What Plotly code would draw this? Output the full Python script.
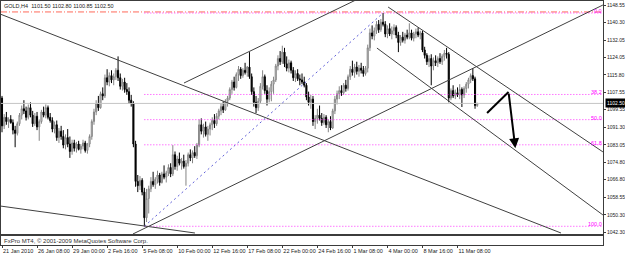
import plotly.graph_objects as go

# ---------------- data ----------------
bar_index = list(range(218))

opens = [
1105.0,1092.0,1096.0,1094.0,1095.0,1093.5,1090.0,1088.5,1093.0,1097.0,
1100.0,1099.0,1096.0,1100.5,1097.0,1093.0,1096.5,1091.5,1094.0,1098.5,
1097.0,1100.5,1096.0,1094.5,1090.5,1092.5,1086.5,1089.5,1087.0,1083.0,
1086.5,1083.5,1080.0,1084.0,1081.5,1083.5,1081.0,1082.5,1084.0,1080.5,
1083.5,1087.0,1094.0,1098.5,1102.5,1100.5,1107.0,1106.0,1114.5,1112.5,
1115.5,1113.5,1115.0,1118.0,1114.5,1110.5,1112.5,1109.0,1108.0,1104.0,
1102.5,1083.5,1066.0,1064.0,1066.5,1061.0,1049.0,1058.0,1062.5,1066.0,
1064.5,1067.0,1069.0,1065.5,1069.5,1068.0,1070.0,1072.5,1069.5,1078.5,
1073.0,1076.5,1074.5,1075.5,1073.0,1074.5,1078.5,1077.0,1079.5,1078.0,
1083.0,1092.5,1089.5,1091.5,1088.0,1090.5,1092.5,1094.5,1093.0,1096.5,
1099.0,1101.0,1099.5,1103.5,1105.0,1109.0,1112.5,1110.0,1116.0,1118.5,
1115.5,1118.0,1117.0,1119.5,1115.0,1108.0,1103.0,1100.5,1103.5,1110.5,
1115.0,1108.5,1104.5,1108.0,1111.5,1113.5,1120.0,1123.5,1122.0,1126.5,
1121.0,1119.0,1121.5,1118.0,1114.5,1116.5,1114.0,1113.5,1112.5,1111.0,
1105.5,1103.0,1104.5,1094.0,1095.5,1097.0,1095.5,1093.5,1096.0,1092.5,
1094.0,1091.0,1099.0,1104.5,1107.0,1108.5,1107.5,1111.0,1109.5,1115.0,
1118.5,1117.0,1119.5,1117.5,1119.0,1118.0,1116.5,1119.0,1128.5,1135.5,
1134.0,1136.5,1139.5,1137.0,1140.5,1139.5,1135.0,1137.5,1135.0,1136.5,
1138.0,1134.5,1131.0,1133.5,1132.0,1134.5,1133.5,1135.5,1133.0,1135.0,
1136.0,1134.5,1135.5,1127.5,1125.0,1122.0,1123.5,1120.0,1122.5,1121.5,
1123.5,1122.0,1124.5,1126.0,1125.5,1105.0,1108.5,1106.0,1107.5,1106.5,
1109.0,1106.5,1109.5,1111.5,1113.5,1115.5,1114.0,1101.5]

highs = [
1106.0,1097.5,1098.5,1096.0,1097.0,1095.0,1092.0,1094.0,1098.0,1101.5,
1104.0,1101.0,1102.0,1103.0,1099.0,1098.0,1098.5,1095.0,1099.5,1101.0,
1102.0,1101.5,1098.0,1096.0,1094.0,1094.5,1091.0,1092.0,1090.0,1088.0,
1090.5,1087.0,1085.5,1085.5,1084.5,1085.0,1083.5,1085.5,1085.0,1084.0,
1088.0,1095.0,1100.0,1104.0,1106.0,1108.0,1110.0,1116.0,1118.5,1117.0,
1118.0,1116.5,1119.0,1124.5,1116.5,1114.0,1114.5,1112.0,1110.0,1106.5,
1103.5,1085.0,1069.0,1068.5,1067.5,1063.0,1062.5,1064.0,1068.0,1070.5,
1068.0,1071.0,1070.0,1070.5,1073.5,1071.0,1074.0,1074.5,1083.0,1080.0,
1078.0,1079.5,1077.0,1078.5,1076.0,1079.5,1081.0,1080.5,1082.5,1084.0,
1095.0,1095.5,1093.0,1094.0,1092.0,1093.5,1096.0,1097.5,1098.0,1100.0,
1102.5,1103.5,1104.5,1106.0,1110.0,1113.5,1115.0,1117.0,1120.0,1119.5,
1119.0,1121.5,1120.0,1126.5,1116.5,1110.0,1106.0,1105.0,1112.0,1118.0,
1116.0,1111.0,1110.0,1113.0,1115.0,1121.0,1125.0,1127.0,1129.5,1128.5,
1124.5,1123.0,1122.5,1119.5,1118.0,1118.5,1116.0,1116.5,1115.0,1112.0,
1108.0,1106.5,1106.0,1097.0,1100.0,1101.5,1098.0,1097.5,1097.0,1095.0,
1096.5,1100.0,1106.0,1108.5,1110.5,1111.0,1112.0,1113.5,1116.0,1120.0,
1122.5,1121.0,1122.0,1120.5,1121.5,1120.0,1120.0,1130.0,1137.5,1139.0,
1138.0,1141.0,1141.5,1142.0,1144.8,1141.0,1139.0,1140.0,1138.5,1139.5,
1139.0,1136.0,1134.5,1136.0,1135.5,1137.0,1140.0,1137.0,1136.0,1137.5,
1138.0,1136.5,1136.5,1129.0,1126.0,1125.0,1125.5,1124.0,1125.0,1124.5,
1126.0,1125.5,1127.5,1128.5,1126.5,1109.5,1111.0,1109.0,1110.0,1111.5,
1110.0,1110.5,1112.5,1114.5,1116.5,1119.0,1115.0,1102.8]

lows = [
1089.0,1090.5,1092.5,1091.0,1093.0,1088.0,1082.0,1087.5,1092.0,1095.0,
1097.5,1094.5,1095.0,1096.0,1091.5,1092.0,1090.0,1085.0,1093.0,1096.0,
1095.5,1095.0,1093.5,1089.0,1088.5,1085.0,1084.0,1085.5,1081.5,1081.0,
1082.0,1077.0,1078.5,1080.0,1079.5,1080.5,1079.0,1081.0,1079.5,1079.0,
1082.0,1085.5,1092.5,1097.0,1099.0,1100.0,1104.0,1105.0,1111.0,1110.5,
1112.0,1111.0,1113.5,1113.0,1109.0,1108.5,1107.5,1106.5,1102.5,1101.0,
1082.0,1063.5,1061.0,1062.0,1059.5,1045.0,1047.0,1051.0,1061.0,1063.5,
1062.5,1065.0,1064.0,1065.0,1067.0,1065.5,1068.5,1068.0,1068.5,1071.5,
1071.0,1073.5,1071.5,1072.0,1064.0,1073.0,1075.5,1074.5,1077.0,1076.5,
1082.0,1088.0,1086.5,1087.0,1085.0,1087.5,1090.0,1091.0,1092.0,1095.0,
1097.0,1098.0,1099.0,1101.0,1104.0,1107.0,1108.5,1109.5,1113.0,1114.0,
1114.5,1116.0,1115.0,1114.0,1106.5,1101.0,1098.0,1099.0,1102.5,1109.0,
1107.0,1101.5,1103.0,1103.5,1107.0,1112.5,1118.0,1120.5,1121.0,1119.5,
1117.5,1117.0,1116.5,1113.0,1112.5,1113.0,1111.0,1111.5,1110.0,1104.0,
1101.5,1100.0,1092.0,1090.5,1093.0,1094.5,1092.0,1092.5,1091.0,1089.0,
1090.0,1090.5,1097.5,1102.0,1104.5,1106.0,1106.5,1108.0,1108.5,1113.5,
1115.5,1114.5,1116.0,1115.0,1116.5,1115.0,1115.5,1117.0,1127.0,1132.5,
1132.0,1135.0,1135.5,1136.0,1138.5,1133.5,1133.0,1134.0,1132.5,1134.5,
1133.0,1126.5,1129.5,1131.0,1130.5,1132.5,1132.5,1132.0,1131.5,1133.0,
1133.5,1132.5,1126.5,1123.5,1120.5,1119.5,1111.0,1118.0,1120.0,1119.5,
1121.0,1120.5,1122.5,1123.5,1103.0,1104.0,1105.0,1104.5,1105.5,1104.5,
1100.8,1105.0,1107.5,1109.5,1112.0,1113.0,1100.0,1100.85]

closes = [
1092.0,1096.0,1094.0,1095.0,1093.5,1090.0,1088.5,1093.0,1097.0,1100.0,
1099.0,1096.0,1100.5,1097.0,1093.0,1096.5,1091.5,1094.0,1098.5,1097.0,
1100.5,1096.0,1094.5,1090.5,1092.5,1086.5,1089.5,1087.0,1083.0,1086.5,
1083.5,1080.0,1084.0,1081.5,1083.5,1081.0,1082.5,1084.0,1080.5,1083.5,
1087.0,1094.0,1098.5,1102.5,1100.5,1107.0,1106.0,1114.5,1112.5,1115.5,
1113.5,1115.0,1118.0,1114.5,1110.5,1112.5,1109.0,1108.0,1104.0,1102.5,
1083.5,1066.0,1064.0,1066.5,1061.0,1049.0,1058.0,1062.5,1066.0,1064.5,
1067.0,1069.0,1065.5,1069.5,1068.0,1070.0,1072.5,1069.5,1078.5,1073.0,
1076.5,1074.5,1075.5,1073.0,1074.5,1078.5,1077.0,1079.5,1078.0,1083.0,
1092.5,1089.5,1091.5,1088.0,1090.5,1092.5,1094.5,1093.0,1096.5,1099.0,
1101.0,1099.5,1103.5,1105.0,1109.0,1112.5,1110.0,1116.0,1118.5,1115.5,
1118.0,1117.0,1119.5,1115.0,1108.0,1103.0,1100.5,1103.5,1110.5,1115.0,
1108.5,1104.5,1108.0,1111.5,1113.5,1120.0,1123.5,1122.0,1126.5,1121.0,
1119.0,1121.5,1118.0,1114.5,1116.5,1114.0,1113.5,1112.5,1111.0,1105.5,
1103.0,1104.5,1094.0,1095.5,1097.0,1095.5,1093.5,1096.0,1092.5,1094.0,
1091.0,1099.0,1104.5,1107.0,1108.5,1107.5,1111.0,1109.5,1115.0,1118.5,
1117.0,1119.5,1117.5,1119.0,1118.0,1116.5,1119.0,1128.5,1135.5,1134.0,
1136.5,1139.5,1137.0,1140.5,1139.5,1135.0,1137.5,1135.0,1136.5,1138.0,
1134.5,1131.0,1133.5,1132.0,1134.5,1133.5,1135.5,1133.0,1135.0,1136.0,
1134.5,1135.5,1127.5,1125.0,1122.0,1123.5,1120.0,1122.5,1121.5,1123.5,
1122.0,1124.5,1126.0,1125.5,1105.0,1108.5,1106.0,1107.5,1106.5,1109.0,
1106.5,1109.5,1111.5,1113.5,1115.5,1114.0,1101.5,1102.5]

time_tick_bars = [0, 16, 32, 48, 64, 80, 96, 112, 128, 144, 160, 176, 192, 208]
time_tick_text = ["21 Jan 2010", "26 Jan 08:00", "29 Jan 00:00", "2 Feb 16:00",
                  "5 Feb 08:00", "10 Feb 00:00", "12 Feb 16:00", "17 Feb 08:00",
                  "22 Feb 00:00", "24 Feb 16:00", "1 Mar 08:00", "4 Mar 00:00",
                  "8 Mar 16:00", "11 Mar 08:00"]

price_ticks = [1148.55, 1140.30, 1132.05, 1124.05, 1115.80, 1107.55, 1099.55,
               1091.30, 1083.05, 1074.80, 1066.80, 1058.55, 1050.30, 1042.30]

last_price = 1102.50
header_text = "GOLD,H4  1101.50 1102.80 1100.85 1102.50"
copyright_text = "FxPro MT4, \u00a9 2001-2009 MetaQuotes Software Corp."

# Fibonacci retracement anchors (bar, price)
fib_low_bar, fib_low_price = 65, 1045.0
fib_high_bar, fib_high_price = 174, 1144.8
fib_ratios = [0.0, 38.2, 50.0, 61.8, 100.0]

# Trend lines (bar0, price0, bar1, price1)
trend_lines = [
    (-0.91, 1144.34, 255.25, 1041.86),
    (-0.91, 1054.50, 88.10, 1041.86),
    (59.80, 1041.40, 274.40, 1148.55),
    (83.10, 1112.05, 161.60, 1150.90),
    (176.30, 1147.60, 274.40, 1079.80),
    (171.20, 1128.40, 274.40, 1050.30),
]
red_level = 1145.3

# projection arrows (bar, price)
proj_bars = [221.5, 231.3, 234.4]
proj_prices = [1098.0, 1107.8, 1081.5]

# ---------------- figure ----------------
X_RANGE = [-0.4566, 274.43]
Y_RANGE = [1041.39, 1150.42]
FONT = "Liberation Sans"
FRAME = "#3c3c3c"
AXIS_FONT = 5

fig = go.Figure()

fig.add_trace(go.Scatter(x=X_RANGE, y=[last_price, last_price], mode="lines",
                         line=dict(color="#c4c4c4", width=1), hoverinfo="skip", showlegend=False))
fig.add_trace(go.Scatter(x=X_RANGE, y=[red_level, red_level], mode="lines",
                         line=dict(color="#ff6a5a", width=1, dash="6px,2px,1px,2px"),
                         hoverinfo="skip", showlegend=False))

fib_levels = [fib_high_price - r / 100.0 * (fib_high_price - fib_low_price) for r in fib_ratios]
for lv in fib_levels:
    fig.add_trace(go.Scatter(x=[fib_low_bar, X_RANGE[1]], y=[lv, lv], mode="lines",
                             line=dict(color="#ff33ff", width=1, dash="1px,2px"),
                             hoverinfo="skip", showlegend=False))
fig.add_trace(go.Scatter(x=[fib_low_bar, fib_high_bar], y=[fib_low_price, fib_high_price], mode="lines",
                         line=dict(color="#6060d8", width=1, dash="2px,3px"), hoverinfo="skip", showlegend=False))

for (b0, p0, b1, p1) in trend_lines:
    fig.add_trace(go.Scatter(x=[b0, b1], y=[p0, p1], mode="lines",
                             line=dict(color="#404040", width=1), hoverinfo="skip", showlegend=False))

fig.add_trace(go.Candlestick(
    x=bar_index, open=opens, high=highs, low=lows, close=closes,
    increasing=dict(line=dict(color="#858585", width=1), fillcolor="#ececec"),
    decreasing=dict(line=dict(color="#000000", width=1), fillcolor="#000000"),
    whiskerwidth=0, hoverinfo="skip", showlegend=False))

fig.add_trace(go.Scatter(x=proj_bars[:2], y=proj_prices[:2], mode="lines",
                         line=dict(color="#000000", width=2), hoverinfo="skip", showlegend=False))

fig.add_trace(go.Scatter(x=[0], y=[0.5], xaxis="x2", yaxis="y2", mode="markers",
                         marker=dict(opacity=0), hoverinfo="skip", showlegend=False))

annotations = []
annotations.append(dict(x=proj_bars[2], y=proj_prices[2], ax=proj_bars[1], ay=proj_prices[1],
                        xref="x", yref="y", axref="x", ayref="y", showarrow=True,
                        arrowhead=2, arrowsize=1, arrowwidth=2, arrowcolor="#000000", text=""))
for r, lv in zip(fib_ratios, fib_levels):
    annotations.append(dict(x=1, xref="x domain", xanchor="right", y=lv, yref="y", yanchor="bottom",
                            text=f"{r:.1f}", showarrow=False, yshift=-2, borderpad=0,
                            font=dict(color="#ff00ff", size=5.5, family=FONT)))
annotations.append(dict(x=0, xref="x domain", xanchor="left", xshift=2, y=1, yref="y domain",
                        yanchor="top", yshift=-1, text=header_text, showarrow=False, borderpad=0,
                        font=dict(color="#202020", size=5.5, family=FONT)))
annotations.append(dict(x=0, xref="x2 domain", xanchor="left", xshift=2, y=0.5, yref="y2 domain",
                        yanchor="middle", text=copyright_text, showarrow=False, borderpad=0,
                        font=dict(color="#303030", size=6, family=FONT)))
annotations.append(dict(x=1, xref="x domain", xanchor="left", xshift=2, y=last_price, yref="y",
                        yanchor="middle", text=f"{last_price:.2f}", showarrow=False,
                        bgcolor="#000000", borderpad=1,
                        font=dict(color="#ffffff", size=AXIS_FONT, family=FONT)))

H_TOTAL = 256
M_T, M_B = 1, 11
plot_h = H_TOTAL - M_T - M_B
main_bottom_px, sub_top_px, sub_bottom_px = 234, 236, 245
main_dom = [(sub_bottom_px - main_bottom_px) / plot_h, 1]
sub_dom = [0, (sub_bottom_px - sub_top_px) / plot_h]

fig.update_layout(
    width=625, height=256,
    margin=dict(l=1, r=22, t=M_T, b=M_B, pad=0, autoexpand=False),
    paper_bgcolor="#ffffff", plot_bgcolor="#ffffff",
    showlegend=False,
    annotations=annotations,
    xaxis=dict(domain=[0, 1], anchor="y", range=X_RANGE, showticklabels=False, ticks="",
               showline=True, mirror=True, linecolor=FRAME, linewidth=1, showgrid=False,
               zeroline=False, rangeslider=dict(visible=False), fixedrange=True, automargin=False),
    yaxis=dict(domain=main_dom, anchor="x", side="right", range=Y_RANGE, automargin=False,
               tickvals=price_ticks, ticktext=[f"{v:.2f}" for v in price_ticks],
               ticks="outside", ticklen=2, tickcolor=FRAME, tickwidth=1,
               showline=True, mirror=True, linecolor=FRAME, linewidth=1, showgrid=False,
               zeroline=False, tickfont=dict(size=AXIS_FONT, color="#202020", family=FONT)),
    xaxis2=dict(domain=[0, 1], anchor="y2", matches="x", range=X_RANGE, automargin=False,
                tickvals=time_tick_bars, ticktext=time_tick_text, ticks="outside", ticklen=2,
                tickangle=0, tickcolor=FRAME, ticklabelposition="outside right",
                showline=True, mirror=True, linecolor=FRAME, linewidth=1, showgrid=False,
                zeroline=False, tickfont=dict(size=5.5, color="#202020", family=FONT)),
    yaxis2=dict(domain=sub_dom, anchor="x2", range=[0, 1], showticklabels=False, ticks="",
                showline=True, mirror=True, linecolor=FRAME, linewidth=1, showgrid=False,
                zeroline=False, automargin=False),
)

fig.write_html("out.html")
